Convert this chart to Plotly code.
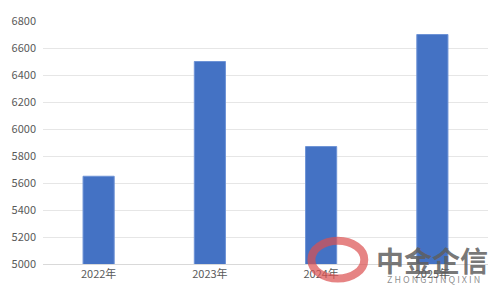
import plotly.graph_objects as go

categories = ["2022年", "2023年", "2024年", "2025年"]
values = [5650, 6500, 5870, 6700]
y_ticks = [5000, 5200, 5400, 5600, 5800, 6000, 6200, 6400, 6600, 6800]

fig = go.Figure()
fig.add_trace(go.Bar(
    x=categories, y=values,
    marker=dict(color="#4472C4", line=dict(color="#6E93D6", width=1)),
    width=0.28,
))

W, H = 503, 298
ml, mr, mt, mb = 42, 15, 14, 34
pw, ph = W - ml - mr, H - mt - mb


def px(x):
    return (x - ml) / pw


def py(y):
    return 1 - (y - mt) / ph


fig.update_layout(
    width=W, height=H,
    margin=dict(l=ml, r=mr, t=mt, b=mb),
    paper_bgcolor="white", plot_bgcolor="white",
    showlegend=False,
    font=dict(family="Noto Sans CJK SC, Noto Sans, sans-serif", size=11, color="#595959"),
    xaxis=dict(showgrid=False, showline=True, linecolor="#D9D9D9", linewidth=1,
               ticks="", tickfont=dict(size=11, color="#595959")),
    yaxis=dict(range=[5000, 6800], tickvals=y_ticks, showgrid=True, gridcolor="#E6E6E6",
               gridwidth=1, zeroline=False, showline=False, ticks="",
               tickfont=dict(size=11, color="#595959"), ticklabelstandoff=6),
)

# faint watermark
fig.add_shape(type="circle", xref="paper", yref="paper", layer="above",
              x0=px(311), x1=px(364), y0=py(279), y1=py(240),
              line=dict(color="rgba(220,80,80,0.7)", width=8))
fig.add_annotation(text="<b>中金企信</b>", xref="paper", yref="paper",
                   x=px(432), y=py(260), xanchor="center", yanchor="middle",
                   showarrow=False, font=dict(size=28, color="rgba(95,95,95,0.85)"))
fig.add_annotation(text="Z H O N G J I N Q I X I N", xref="paper", yref="paper",
                   x=px(433), y=py(280), xanchor="center", yanchor="middle",
                   showarrow=False, font=dict(size=9, color="rgba(90,90,90,0.7)"))

fig.write_html("out.html")
